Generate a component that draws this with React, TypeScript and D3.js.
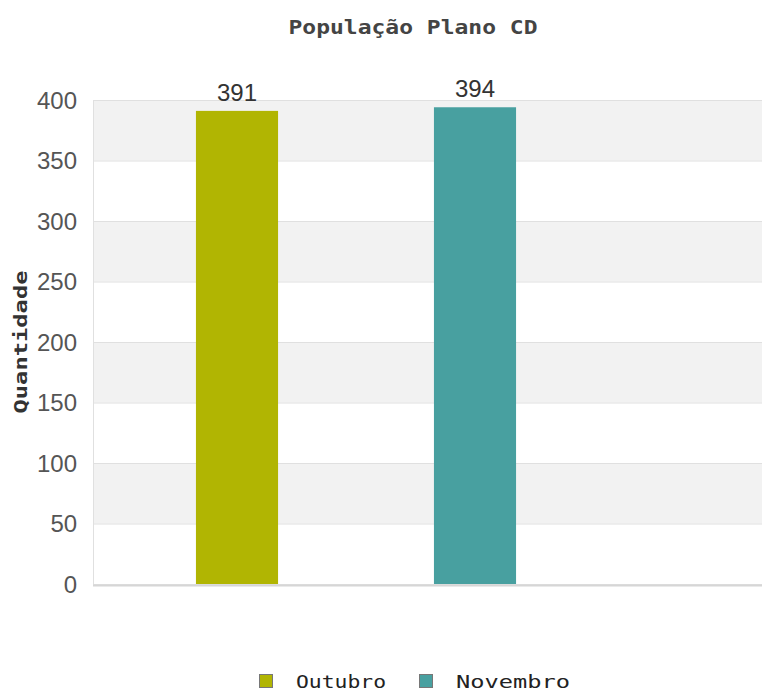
import { useEffect, useRef } from "react";
import * as d3 from "d3";

const categories = ["Outubro", "Novembro"];
const values = [391, 394];
const colors = ["#b1b502", "#48a0a0"];
const yTicks = [0, 50, 100, 150, 200, 250, 300, 350, 400];

export default function App() {
  const ref = useRef<SVGSVGElement>(null);

  useEffect(() => {
    if (!ref.current) return;
    const width = 763;
    const height = 691;
    const margin = { top: 100, right: 1, bottom: 107, left: 93 };

    const svg = d3.select(ref.current);
    svg.selectAll("*").remove();
    svg.attr("width", width).attr("height", height);

    const y = d3
      .scaleLinear()
      .domain([0, 400])
      .range([height - margin.bottom, margin.top]);

    const x = d3
      .scaleBand()
      .domain(categories)
      .range([margin.left + 25, margin.left + 25 + 2 * 238])
      .paddingInner(0.655)
      .paddingOuter(0.3275);

    // alternating bands
    const bands = d3.range(0, yTicks.length - 1).filter((i) => i % 2 === 1);
    svg
      .append("g")
      .selectAll("rect")
      .data(bands)
      .join("rect")
      .attr("x", margin.left)
      .attr("width", width - margin.right - margin.left)
      .attr("y", (i) => y(yTicks[i + 1]))
      .attr("height", (i) => y(yTicks[i]) - y(yTicks[i + 1]))
      .attr("fill", "#f2f2f2");

    svg
      .append("g")
      .attr("stroke", "#e0e0e0")
      .selectAll("line")
      .data(yTicks)
      .join("line")
      .attr("x1", margin.left)
      .attr("x2", width - margin.right)
      .attr("y1", (d) => y(d) + 0.5)
      .attr("y2", (d) => y(d) + 0.5);

    svg
      .append("line")
      .attr("x1", margin.left + 0.5)
      .attr("x2", margin.left + 0.5)
      .attr("y1", y(400))
      .attr("y2", y(0))
      .attr("stroke", "#e0e0e0");

    svg
      .append("line")
      .attr("x1", margin.left)
      .attr("x2", width - margin.right)
      .attr("y1", y(0) + 1.5)
      .attr("y2", y(0) + 1.5)
      .attr("stroke", "#d6d6d6")
      .attr("stroke-width", 2);

    svg
      .append("g")
      .selectAll("text")
      .data(yTicks)
      .join("text")
      .attr("x", margin.left - 16)
      .attr("y", (d) => y(d))
      .attr("dy", "0.36em")
      .attr("text-anchor", "end")
      .attr("fill", "#555")
      .attr("font-family", "'Liberation Sans', Arial, sans-serif")
      .attr("font-size", 24)
      .attr("textLength", (d) => `${d}`.length * 13.3)
      .text((d) => `${d}`);

    svg
      .append("g")
      .selectAll("text")
      .data(values)
      .join("text")
      .attr("x", (_, i) => (x(categories[i]) ?? 0) + x.bandwidth() / 2)
      .attr("y", (d) => y(d) - 10)
      .attr("text-anchor", "middle")
      .attr("fill", "#333")
      .attr("font-family", "'Liberation Sans', Arial, sans-serif")
      .attr("font-size", 24)
      .text((d) => `${d}`);

    svg
      .append("g")
      .selectAll("rect")
      .data(values)
      .join("rect")
      .attr("x", (_, i) => x(categories[i]) ?? 0)
      .attr("width", x.bandwidth())
      .attr("y", (d) => y(d))
      .attr("height", (d) => y(0) - y(d))
      .attr("fill", (_, i) => colors[i]);

    svg
      .append("text")
      .attr("x", 413)
      .attr("y", 34)
      .attr("text-anchor", "middle")
      .attr("fill", "#444")
      .attr("font-family", "'DejaVu Sans Mono', monospace")
      .attr("font-weight", "bold")
      .attr("font-size", 19)
      .attr("textLength", 249)
      .attr("lengthAdjust", "spacingAndGlyphs")
      .text("População Plano CD");

    svg
      .append("text")
      .attr("transform", `translate(27, ${(y(0) + y(400)) / 2}) rotate(-90)`)
      .attr("text-anchor", "middle")
      .attr("fill", "#333")
      .attr("font-family", "'DejaVu Sans Mono', monospace")
      .attr("font-weight", "bold")
      .attr("font-size", 18)
      .attr("textLength", 143)
      .attr("lengthAdjust", "spacingAndGlyphs")
      .text("Quantidade");

    // legend
    const legendX = [259, 419];
    const legendW = [90, 114];
    const legend = svg
      .append("g")
      .selectAll("g")
      .data(categories)
      .join("g")
      .attr("transform", (_, i) => `translate(${legendX[i]}, 674)`);
    legend
      .append("rect")
      .attr("x", 0.5)
      .attr("y", 0.5)
      .attr("width", 13)
      .attr("height", 13)
      .attr("fill", (_, i) => colors[i])
      .attr("stroke", "#777");
    legend
      .append("text")
      .attr("x", 37)
      .attr("y", 14)
      .attr("fill", "#222")
      .attr("font-family", "'DejaVu Sans Mono', monospace")
      .attr("font-size", 18)
      .attr("textLength", (_, i) => legendW[i])
      .attr("lengthAdjust", "spacingAndGlyphs")
      .text((d) => d);
  }, []);

  return <svg ref={ref} style={{ position: "absolute", left: 0, top: 0 }} />;
}
